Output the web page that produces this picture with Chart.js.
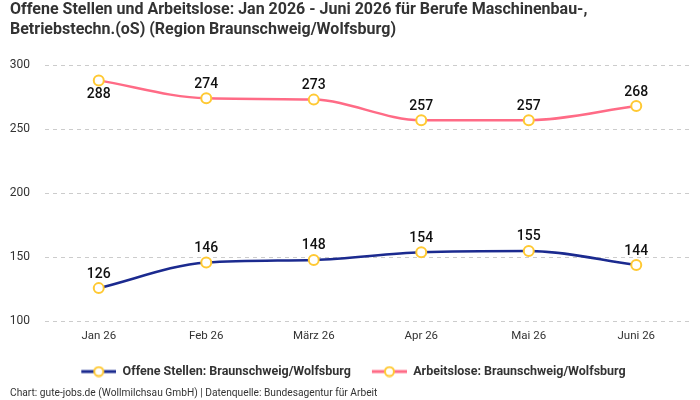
<!DOCTYPE html>
<html>
<head>
<meta charset="utf-8">
<script src="https://cdn.jsdelivr.net/npm/chart.js@4"></script>
<style>
  html, body { margin: 0; padding: 0; background: #fff; }
  #wrap { width: 700px; height: 400px; position: relative; }
</style>
</head>
<body>
<div id="wrap"><canvas id="chart" width="700" height="400"></canvas></div>
<script>
const months = ['Jan 26', 'Feb 26', 'März 26', 'Apr 26', 'Mai 26', 'Juni 26'];
const offeneStellen = [126, 146, 148, 154, 155, 144];
const arbeitslose = [288, 274, 273, 257, 257, 268];
const yTicks = [100, 150, 200, 250, 300];

const navy = '#1b2a8f';
const pink = '#ff6b86';
const yellow = '#ffc933';
const fontFamily = "Roboto, 'Noto Sans', sans-serif";

// legend marker: line with a ring, with some blank room on the left as item gap
function legendIcon(color) {
  const c = document.createElement('canvas');
  c.width = 42; c.height = 12;
  const ctx = c.getContext('2d');
  ctx.strokeStyle = color;
  ctx.lineWidth = 3;
  ctx.beginPath(); ctx.moveTo(7, 6); ctx.lineTo(42, 6); ctx.stroke();
  ctx.fillStyle = '#fff';
  ctx.strokeStyle = yellow;
  ctx.lineWidth = 2;
  ctx.beginPath(); ctx.arc(24.5, 6, 4.5, 0, Math.PI * 2); ctx.fill(); ctx.stroke();
  return c;
}

// draws the value labels next to each point
const valueLabels = {
  id: 'valueLabels',
  afterDatasetsDraw(chart) {
    const ctx = chart.ctx;
    ctx.save();
    ctx.font = "500 14px " + fontFamily;
    ctx.fillStyle = '#111';
    ctx.textAlign = 'center';
    chart.data.datasets.forEach((ds, i) => {
      const meta = chart.getDatasetMeta(i);
      meta.data.forEach((pt, j) => {
        const below = ds.labelBelow && ds.labelBelow.includes(j);
        ctx.textBaseline = below ? 'top' : 'bottom';
        ctx.fillText(String(ds.data[j]), pt.x, below ? pt.y + 7 : pt.y - 7);
      });
    });
    ctx.restore();
  }
};

const pointStyle = {
  pointRadius: 5,
  pointHoverRadius: 5,
  pointBackgroundColor: '#fff',
  pointBorderColor: yellow,
  pointBorderWidth: 2,
  borderWidth: 2.5,
  cubicInterpolationMode: 'monotone'
};

new Chart(document.getElementById('chart'), {
  type: 'line',
  data: {
    labels: months,
    datasets: [
      Object.assign({
        label: 'Offene Stellen: Braunschweig/Wolfsburg',
        data: offeneStellen,
        borderColor: navy,
        backgroundColor: navy
      }, pointStyle),
      Object.assign({
        label: 'Arbeitslose: Braunschweig/Wolfsburg',
        data: arbeitslose,
        borderColor: pink,
        backgroundColor: pink,
        labelBelow: [0]
      }, pointStyle)
    ]
  },
  options: {
    responsive: false,
    animation: false,
    layout: { padding: { left: 10, right: 10, top: 0, bottom: 0 } },
    scales: {
      x: {
        offset: true,
        grid: { display: false },
        border: { display: false },
        ticks: { color: '#333', font: { family: fontFamily, size: 11.5 }, padding: 0 },
        afterFit(axis) { axis.height += 8; }
      },
      y: {
        min: 100,
        max: 300,
        afterBuildTicks(axis) { axis.ticks = yTicks.map((v) => ({ value: v })); },
        afterFit(axis) { axis.width = 35; },
        grid: { color: '#cccccc', tickLength: 0 },
        border: { display: false, dash: [4, 4] },
        ticks: { color: '#333', font: { family: fontFamily, size: 12 }, padding: 15 }
      }
    },
    plugins: {
      title: {
        display: true,
        align: 'start',
        text: ['Offene Stellen und Arbeitslose: Jan 2026 - Juni 2026 für Berufe Maschinenbau-,', 'Betriebstechn.(oS) (Region Braunschweig/Wolfsburg)'],
        color: '#333',
        font: { family: fontFamily, size: 16, weight: 'bold', lineHeight: 1.25 },
        padding: { top: 0, bottom: 25 }
      },
      subtitle: {
        display: true,
        position: 'bottom',
        align: 'start',
        text: 'Chart: gute-jobs.de (Wollmilchsau GmbH) | Datenquelle: Bundesagentur für Arbeit',
        color: '#333',
        font: { family: fontFamily, size: 10.2 },
        padding: { top: 0, bottom: 0 }
      },
      legend: {
        position: 'bottom',
        labels: {
          usePointStyle: true,
          pointStyleWidth: 42,
          generateLabels(chart) {
            return chart.data.datasets.map((ds, i) => ({
              text: ds.label,
              pointStyle: legendIcon(ds.borderColor),
              fontColor: '#333',
              datasetIndex: i,
              hidden: false,
              lineWidth: 0
            }));
          },
          color: '#333',
          font: { family: fontFamily, size: 12.5, weight: 'bold' },
          padding: 14,
          boxHeight: 12
        }
      },
      tooltip: { enabled: false }
    }
  },
  plugins: [valueLabels]
});
</script>
</body>
</html>
